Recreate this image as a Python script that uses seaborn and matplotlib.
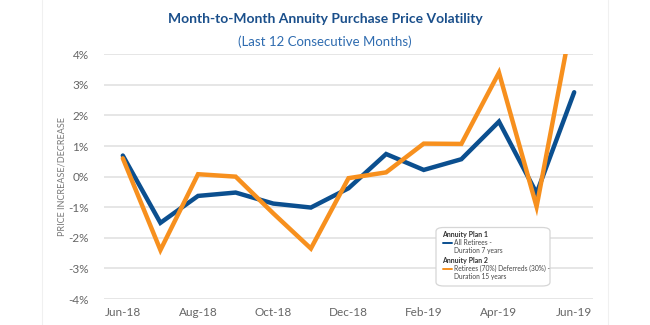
import matplotlib
matplotlib.use("Agg")
import matplotlib.pyplot as plt
import seaborn as sns
import pandas as pd
from matplotlib.lines import Line2D
from matplotlib.patches import FancyBboxPatch

months = ["Jun-18", "Jul-18", "Aug-18", "Sep-18", "Oct-18", "Nov-18", "Dec-18",
          "Jan-19", "Feb-19", "Mar-19", "Apr-19", "May-19", "Jun-19"]
plan1 = [0.69, -1.51, -0.63, -0.52, -0.88, -1.01, -0.38, 0.74, 0.22, 0.57, 1.80, -0.54, 2.76]
plan2 = [0.60, -2.40, 0.08, 0.00, -1.20, -2.35, -0.05, 0.14, 1.08, 1.07, 3.40, -0.98, 5.5]
series_names = ["Annuity Plan 1", "Annuity Plan 2"]
series_desc = ["All Retirees -\nDuration 7 years",
               "Retirees (70%) Deferreds (30%) -\nDuration 15 years"]
yticks = [-4, -3, -2, -1, 0, 1, 2, 3, 4]
xtick_labels = ["Jun-18", "Aug-18", "Oct-18", "Dec-18", "Feb-19", "Apr-19", "Jun-19"]

BLUE = "#0b4f8f"
ORANGE = "#f7901e"
W, H = 650, 325


def fx(x):
    return x / W


def fy(y):
    return 1 - y / H


df = pd.DataFrame({
    "month": months * 2,
    "pct": plan1 + plan2,
    "plan": [series_names[0]] * len(months) + [series_names[1]] * len(months),
})
df["pos"] = list(range(len(months))) * 2

sns.set_theme(style="white")
plt.rcParams["font.family"] = ["Lato", "DejaVu Sans"]

fig = plt.figure(figsize=(6.5, 3.25), dpi=100)
ax = fig.add_axes([fx(104), fy(299), (593 - 104) / W, (299 - 54.3) / H])

sns.lineplot(data=df, x="pos", y="pct", hue="plan", palette=[BLUE, ORANGE],
             hue_order=series_names, linewidth=3.2, ax=ax, legend=False)
for ln, z in zip(ax.get_lines(), [3, 4]):
    ln.set_zorder(z)
    ln.set_solid_joinstyle("miter")

ax.set_xlim(-0.5, len(months) - 0.5)
ax.set_ylim(-4, 4)
ax.set_yticks(yticks)
ax.set_yticklabels([f"{v}%" for v in yticks])
ax.set_xticks([months.index(m) for m in xtick_labels])
ax.set_xticklabels(xtick_labels)
ax.tick_params(axis="both", colors="#666666", labelsize=8.5, length=0)
ax.tick_params(axis="y", pad=11)
ax.tick_params(axis="x", pad=6)
for lab in ax.get_xticklabels() + ax.get_yticklabels():
    lab.set_color("#666666")
ax.grid(axis="y", color="#e4e4e4", linewidth=1.3, zorder=0)
ax.grid(axis="x", visible=False)
for s in ax.spines.values():
    s.set_visible(False)
ax.set_xlabel("")
ax.set_ylabel("PRICE INCREASE/DECREASE", fontsize=6.5, color="#777777", labelpad=1)

fig.text(0.5, fy(19), "Month-to-Month Annuity Purchase Price Volatility",
         ha="center", va="center", fontsize=10, fontweight="bold", color="#1a4f8b")
fig.text(0.5, fy(42), "(Last 12 Consecutive Months)",
         ha="center", va="center", fontsize=9.5, color="#2f6cb0")

# faint frame lines
fig.add_artist(Line2D([fx(42), fx(42)], [0, 1], color="#f0f0f0", lw=0.8))
fig.add_artist(Line2D([fx(608), fx(608)], [0, 1], color="#f0f0f0", lw=0.8))

# legend box drawn by hand
box = FancyBboxPatch((fx(436), fy(286)), fx(550) - fx(436), fy(227.5) - fy(286),
                     boxstyle="round,pad=0,rounding_size=0.012",
                     transform=fig.transFigure, facecolor="white",
                     edgecolor="#d6d6d6", linewidth=0.9, zorder=10)
fig.add_artist(box)
legend_colors = [BLUE, ORANGE]
title_y = [235, 260.5]
entry_y = [246.5, 272.5]
for name, desc, col, ty, ey in zip(series_names, series_desc, legend_colors, title_y, entry_y):
    fig.text(fx(442.5), fy(ty), name, ha="left", va="center", fontsize=5,
             fontweight="bold", color="#333333", zorder=11)
    fig.add_artist(Line2D([fx(442.5), fx(451.5)], [fy(ey - 3.4)] * 2, color=col,
                          lw=1.4, zorder=11))
    fig.text(fx(454), fy(ey), desc, ha="left", va="center", fontsize=4.8,
             color="#444444", linespacing=1.05, zorder=11)

fig.savefig("out.png", dpi=100, facecolor="white")
